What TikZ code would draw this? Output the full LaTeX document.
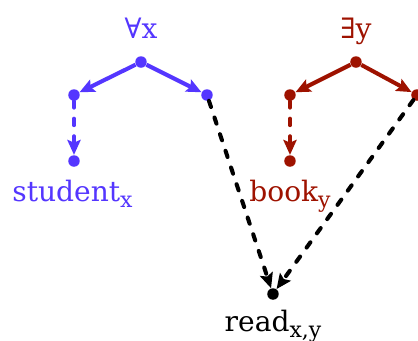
\documentclass[tikz,border=0pt]{standalone}
\usepackage{fontspec}
\setmainfont{DejaVu Serif}
\definecolor{qblue}{RGB}{84,54,255}
\definecolor{qred}{RGB}{158,18,0}
\usetikzlibrary{arrows.meta,positioning}
\newcommand\lowsub[1]{\raisebox{-3.7pt}{\fontsize{12.5}{14}\selectfont #1}}
\tikzset{
  dot/.style={circle, fill, inner sep=0pt, minimum size=0.23cm},
  tip/.style={-{Stealth[length=8.5pt,width=7.5pt,inset=1.5pt]}},
  solidarc/.style={tip, line width=2.3pt},
  dasharc/.style={tip, line width=2.3pt, line cap=round, dash pattern=on 3.7pt off 6.3pt},
  word/.style={font=\fontsize{16}{19}\selectfont, inner sep=0pt}
}

\begin{document}
\begin{tikzpicture}
  \useasboundingbox (0,0) rectangle (8.36,6.8);
  % Universal quantifier
  \node[dot, qblue] (xroot) at (2.82,5.56) {};
  \node[dot, qblue] (xrestr) at (1.48,4.90) {};
  \node[dot, qblue] (xscope) at (4.14,4.90) {};
  \node[dot, qblue] (xleaf) at (1.48,3.58) {};
  \node[word, text=qblue, above=0.47cm of xroot.center, anchor=base] (xlab) {∀x};
  \node[word, text=qblue, below=0.8cm of xleaf.center, anchor=base, xshift=-0.03cm] (student) {student\lowsub{x}};
  % Existential quantifier
  \node[dot, qred] (yroot) at (7.12,5.56) {};
  \node[dot, qred] (yrestr) at (5.80,4.90) {};
  \node[dot, qred] (yscope) at (8.34,4.90) {};
  \node[dot, qred] (yleaf) at (5.80,3.58) {};
  \node[word, text=qred, above=0.47cm of yroot.center, anchor=base] (ylab) {∃y};
  \node[word, text=qred, below=0.8cm of yleaf.center, anchor=base] (book) {book\lowsub{y}};
  % Predicate
  \node[dot, black] (read) at (5.46,0.92) {};
  \node[word, below=0.74cm of read.center, anchor=base] (readlab) {read\lowsub{x,y}};
  % Arcs
  \draw[solidarc, qblue] (xroot) -- (xrestr);
  \draw[solidarc, qblue] (xroot) -- (xscope);
  \draw[dasharc, qblue] (xrestr) -- (xleaf);
  \draw[solidarc, qred] (yroot) -- (yrestr);
  \draw[solidarc, qred] (yroot) -- (yscope);
  \draw[dasharc, qred] (yrestr) -- (yleaf);
  \draw[dasharc, black] (xscope) -- (read);
  \draw[dasharc, black] (yscope) -- (read);
\end{tikzpicture}
\end{document}
